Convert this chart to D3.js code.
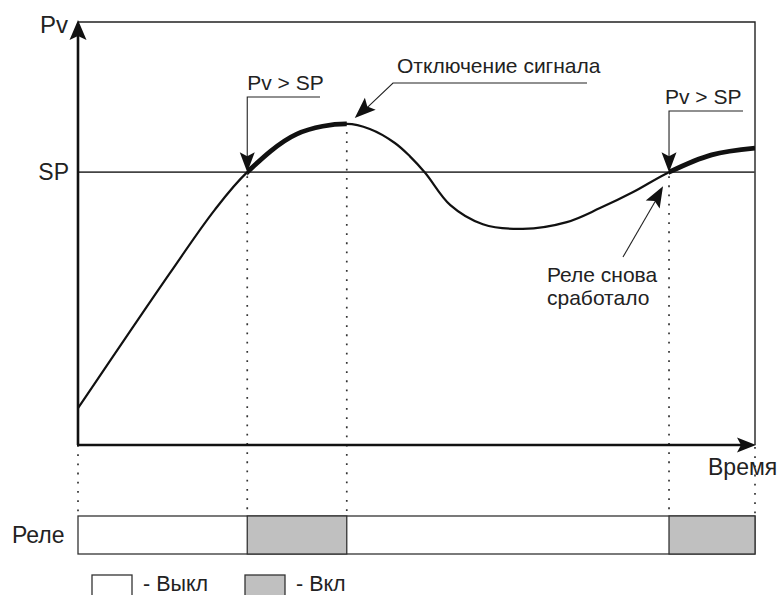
<!DOCTYPE html>
<html lang="ru">
<head>
<meta charset="UTF-8">
<title>Реле Pv > SP</title>
<script src="https://d3js.org/d3.v7.min.js"></script>
<style>
  body { margin: 0; background: #fff; }
  svg { display: block; }
  text { font-family: "Liberation Sans", Arial, sans-serif; fill: #222; }
  .axis-line { stroke: #111; stroke-width: 2.6; fill: none; }
  .frame { stroke: #222; stroke-width: 1.4; fill: none; }
  .sp-line { stroke: #444; stroke-width: 1.6; }
  .curve { fill: none; stroke: #111; stroke-width: 2.2; }
  .curve-on { fill: none; stroke: #111; stroke-width: 4.8; }
  .dots { stroke: #333; stroke-width: 1.7; stroke-dasharray: 1.8 7.4; }
  .leader { stroke: #222; stroke-width: 1.1; fill: none; }
  .relay { stroke: #333; stroke-width: 1.3; }
</style>
</head>
<body>
<div id="chart"></div>
<script>
  // данные процесса (время, Pv)
  const time = [0, 13.6, 20.2, 25, 32.3, 39.7, 43.1, 46.8, 49.0, 51.3, 55.0, 59.8, 65.7,
                72.2, 77.1, 82.0, 87.3, 93.6, 100];
  const pv = [8.7, 40.7, 55.6, 64.5, 73.5, 75.9, 74.7, 71.4, 68.3, 64.3, 56.7, 52.2, 51.1,
              52.7, 56.0, 59.8, 64.5, 68.6, 70.2];
  const setPoint = 64.5;
  // интервалы включения реле
  const relayOn = [[25, 39.7], [87.3, 100]];
  const legendItems = [{ label: "- Выкл", on: false }, { label: "- Вкл", on: true }];

  const width = 781, height = 595;
  const svg = d3.select("#chart").append("svg")
    .attr("width", width).attr("height", height);

  const x = d3.scaleLinear().domain([0, 100]).range([78, 755]);
  const y = d3.scaleLinear().domain([0, 100]).range([445, 22]);
  const relayTop = 516, relayBottom = 554;

  // наконечник стрелки: tip - острие, from - откуда идёт линия
  function arrowHead(tip, from, len, half) {
    const dx = from[0] - tip[0], dy = from[1] - tip[1];
    const d = Math.hypot(dx, dy), ux = dx / d, uy = dy / d;
    const nx = -uy, ny = ux;
    const pts = [
      tip,
      [tip[0] + ux * len + nx * half, tip[1] + uy * len + ny * half],
      [tip[0] + ux * (len - 4), tip[1] + uy * (len - 4)],
      [tip[0] + ux * len - nx * half, tip[1] + uy * len - ny * half]
    ];
    svg.append("path").attr("d", "M" + pts.join("L") + "Z").attr("fill", "#111");
  }

  // пунктирные вертикали
  const dotTimes = [
    { t: 0, y0: y(0) }, { t: 25, y0: y(setPoint) + 4 }, { t: 39.7, y0: y(75.9) + 8 },
    { t: 87.3, y0: y(setPoint) + 4 }, { t: 100, y0: y(0) + 2 }
  ];
  svg.selectAll(".dots").data(dotTimes).enter().append("line")
    .attr("class", "dots")
    .attr("x1", d => x(d.t)).attr("x2", d => x(d.t))
    .attr("y1", d => d.y0).attr("y2", relayTop);

  // рамка сверху и справа
  svg.append("path").attr("class", "frame")
    .attr("d", `M${x(0)},${y(100)}H${x(100)}V${y(0)}`);

  // линия SP
  svg.append("line").attr("class", "sp-line")
    .attr("x1", x(0)).attr("x2", x(100))
    .attr("y1", y(setPoint)).attr("y2", y(setPoint));

  // кривая Pv
  const line = d3.line().x((d, i) => x(time[i])).y(d => y(d)).curve(d3.curveCatmullRom.alpha(0.5));
  svg.append("path").attr("class", "curve").attr("d", line(pv));

  const clip = svg.append("clipPath").attr("id", "on-clip");
  clip.selectAll("rect").data(relayOn).enter().append("rect")
    .attr("x", d => x(d[0])).attr("width", d => x(d[1]) - x(d[0]))
    .attr("y", 0).attr("height", y(0));
  svg.append("path").attr("class", "curve-on").attr("d", line(pv))
    .attr("clip-path", "url(#on-clip)");

  // оси
  svg.append("line").attr("class", "axis-line")
    .attr("x1", x(0)).attr("x2", x(0)).attr("y1", y(0)).attr("y2", y(100) + 12);
  svg.append("line").attr("class", "axis-line")
    .attr("x1", x(0) - 1).attr("x2", x(100) - 10).attr("y1", y(0)).attr("y2", y(0));
  arrowHead([x(0), y(100) - 2], [x(0), y(0)], 20, 8.5);
  arrowHead([x(100) + 1, y(0)], [x(0), y(0)], 19, 7.5);

  svg.append("text").attr("x", 68).attr("y", 33).attr("text-anchor", "end")
    .style("font-size", "24px").text("Pv");
  svg.append("text").attr("x", 69).attr("y", 180).attr("text-anchor", "end")
    .style("font-size", "23px").text("SP");
  svg.append("text").attr("x", 708).attr("y", 475)
    .style("font-size", "23px").text("Время");

  // выноски Pv > SP
  relayOn.forEach(r => {
    const tx = x(r[0]), ty = y(setPoint);
    const topY = r[0] < 50 ? 97 : 111;
    const right = r[0] < 50 ? 320 : 743;
    svg.append("path").attr("class", "leader")
      .attr("d", `M${right},${topY}H${tx}V${ty - 14}`);
    arrowHead([tx, ty], [tx, topY], 20, 7.5);
    svg.append("text").attr("x", tx - (r[0] < 50 ? 0 : 4)).attr("y", topY - 7)
      .style("font-size", "21px").text("Pv > SP");
  });

  // Отключение сигнала
  const offTip = [x(39.7) + 8, y(75.9) - 6];
  svg.append("path").attr("class", "leader")
    .attr("d", `M587,83H393L${offTip[0] + 10},${offTip[1] - 8}`);
  arrowHead(offTip, [393, 83], 21, 8);
  svg.append("text").attr("x", 397).attr("y", 73)
    .style("font-size", "21px").text("Отключение сигнала");

  // Реле снова сработало
  const reTip = [x(87.3) - 6, y(setPoint) + 14];
  svg.append("line").attr("class", "leader")
    .attr("x1", 623).attr("y1", 257).attr("x2", reTip[0] - 6).attr("y2", reTip[1] + 12);
  arrowHead(reTip, [623, 257], 21, 8);
  svg.append("text").attr("x", 547).attr("y", 282)
    .style("font-size", "21px").text("Реле снова");
  svg.append("text").attr("x", 547).attr("y", 305)
    .style("font-size", "21px").text("сработало");

  // полоса состояния реле
  svg.append("rect").attr("class", "relay")
    .attr("x", x(0)).attr("y", relayTop)
    .attr("width", x(100) - x(0)).attr("height", relayBottom - relayTop)
    .attr("fill", "#fff");
  svg.selectAll(".relay-on").data(relayOn).enter().append("rect")
    .attr("class", "relay relay-on")
    .attr("x", d => x(d[0])).attr("y", relayTop)
    .attr("width", d => x(d[1]) - x(d[0])).attr("height", relayBottom - relayTop)
    .attr("fill", "#c0c0c0");
  svg.append("text").attr("x", 12).attr("y", 543)
    .style("font-size", "23px").text("Реле");

  // легенда
  const leg = svg.selectAll(".legend").data(legendItems).enter().append("g")
    .attr("class", "legend")
    .attr("transform", (d, i) => `translate(${92 + i * 153},575)`);
  leg.append("rect").attr("class", "relay")
    .attr("width", 40).attr("height", 30)
    .attr("fill", d => d.on ? "#c0c0c0" : "#fff");
  leg.append("text").attr("x", 51).attr("y", 16)
    .style("font-size", "21.5px").text(d => d.label);
</script>
</body>
</html>
